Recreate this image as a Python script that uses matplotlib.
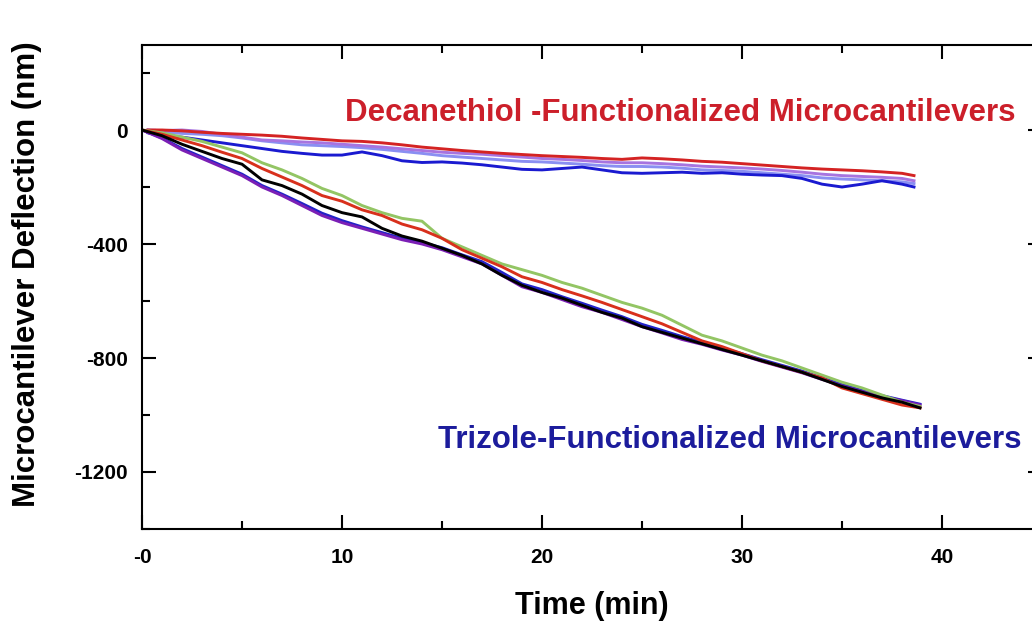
import numpy as np
import matplotlib
matplotlib.use("Agg")
import matplotlib.pyplot as plt
from matplotlib.ticker import MultipleLocator

plt.rcParams['font.family'] = ['Liberation Sans', 'DejaVu Sans']
plt.rcParams['font.weight'] = 'bold'
plt.rcParams['axes.unicode_minus'] = False

# 上组：Decanethiol 功能化悬臂
t_top = [0.3, 1, 2, 3, 4, 5, 6, 7, 8, 9, 10, 11, 12, 13, 14, 15, 16, 17, 18, 19,
         20, 21, 22, 23, 24, 25, 26, 27, 28, 29, 30, 31, 32, 33, 34, 35, 36, 37, 38, 38.6]
dec_red = [0, 0, -3, -8, -12, -15, -18, -22, -28, -33, -38, -40, -45, -52, -60, -66, -72, -77, -82, -86,
           -90, -93, -96, -100, -103, -98, -101, -105, -110, -113, -118, -123, -128, -133, -137, -140, -143, -147, -152, -160]
dec_violet = [0, -2, 0, -5, -15, -25, -35, -38, -42, -45, -50, -55, -60, -66, -72, -78, -82, -85, -90, -95,
              -100, -103, -107, -112, -115, -115, -118, -122, -127, -130, -133, -137, -142, -148, -155, -160, -163, -166, -170, -178]
dec_lblue = [0, -8, -12, -15, -20, -28, -38, -45, -52, -55, -58, -62, -68, -75, -82, -90, -95, -100, -105, -110,
             -112, -116, -120, -125, -128, -128, -130, -134, -140, -142, -145, -150, -155, -160, -168, -172, -175, -178, -182, -188]
dec_blue = [-10, -20, -25, -35, -45, -55, -65, -75, -82, -88, -88, -77, -90, -108, -114, -112, -116, -122, -130, -138,
            -140, -135, -130, -140, -150, -152, -150, -148, -152, -150, -155, -158, -160, -170, -190, -200, -190, -178, -190, -200]

# 下组：Trizole 功能化悬臂
t_bot = [0, 1, 2, 3, 4, 5, 6, 7, 8, 9, 10, 11, 12, 13, 14, 15, 16, 17, 18, 19,
         20, 21, 22, 23, 24, 25, 26, 27, 28, 29, 30, 31, 32, 33, 34, 35, 36, 37, 38, 38.9]
tri_blue = [0, -28, -65, -95, -125, -155, -195, -225, -258, -292, -318, -340, -360, -380, -395, -413, -438, -462, -500, -540,
            -560, -585, -608, -632, -655, -682, -703, -725, -745, -765, -785, -806, -826, -846, -870, -893, -914, -932, -948, -962]
tri_purple = [0, -30, -70, -100, -130, -160, -200, -230, -265, -300, -325, -345, -365, -385, -400, -420, -445, -470, -510, -550,
              -570, -595, -620, -640, -665, -690, -712, -735, -752, -772, -790, -812, -832, -852, -875, -898, -918, -935, -950, -965]
tri_green = [0, -10, -25, -40, -60, -80, -115, -140, -170, -205, -230, -265, -290, -310, -320, -380, -410, -440, -470, -490,
             -510, -535, -555, -580, -605, -625, -650, -685, -720, -740, -765, -790, -810, -835, -860, -885, -905, -930, -955, -970]
tri_red = [0, -15, -35, -55, -78, -100, -135, -165, -195, -230, -250, -280, -300, -330, -350, -380, -420, -450, -480, -515,
           -535, -560, -582, -605, -630, -655, -680, -710, -740, -760, -785, -810, -830, -850, -870, -905, -925, -945, -965, -975]
tri_black = [0, -20, -50, -75, -100, -120, -175, -195, -225, -265, -290, -305, -345, -372, -390, -415, -440, -470, -510, -545,
             -570, -590, -615, -640, -660, -690, -710, -730, -750, -770, -790, -810, -830, -850, -875, -900, -920, -940, -955, -975]

xticks = [0, 10, 20, 30, 40]
xtick_labels = ['-0', '10', '20', '30', '40']
yticks = [0, -400, -800, -1200]
ytick_labels = ['0', '-400', '-800', '-1200']

fig = plt.figure(figsize=(10.32, 6.24), dpi=100)
ax = fig.add_axes([142 / 1032, 95 / 624, 900 / 1032, 484.5 / 624])

lw = 2.1
ax.plot(t_top, dec_lblue, color='#8a8ff2', lw=lw)
ax.plot(t_top, dec_violet, color='#a774e0', lw=lw)
ax.plot(t_top, dec_red, color='#d42323', lw=lw)
ax.plot(t_top, dec_blue, color='#1a1ad0', lw=lw)

ax.plot(t_bot, tri_blue, color='#2222c8', lw=lw)
ax.plot(t_bot, tri_purple, color='#7b1fb5', lw=lw)
ax.plot(t_bot, tri_green, color='#93c564', lw=lw)
ax.plot(t_bot, tri_red, color='#d8301c', lw=lw)
ax.plot(t_bot, tri_black, color='black', lw=lw)

ax.set_xlim(0, 45)
ax.set_ylim(-1400, 300)
ax.set_xticks(xticks)
ax.set_xticklabels(xtick_labels, fontsize=15, fontweight='bold')
ax.set_yticks(yticks)
ax.set_yticklabels(ytick_labels, fontsize=15, fontweight='bold')
ax.xaxis.set_minor_locator(MultipleLocator(5))
ax.yaxis.set_minor_locator(MultipleLocator(200))
ax.tick_params(which='both', direction='in', top=True, right=True, width=1.5)
ax.tick_params(which='major', length=10)
ax.tick_params(axis='x', which='major', pad=14)
ax.tick_params(axis='y', which='major', pad=10)
ax.tick_params(which='minor', length=6)
for s in ax.spines.values():
    s.set_linewidth(1.5)

ax.set_xlabel('Time (min)', fontsize=22, fontweight='bold', labelpad=17)
ax.set_ylabel('Microcantilever Deflection (nm)', fontsize=22.5, fontweight='bold')
ax.yaxis.set_label_coords(-0.111, 0.525)

ax.text(0.598, 0.859, 'Decanethiol -Functionalized Microcantilevers', transform=ax.transAxes,
        color='#cc1f2a', fontsize=22.5, fontweight='bold', ha='center', va='center')
ax.text(0.653, 0.184, 'Trizole-Functionalized Microcantilevers', transform=ax.transAxes,
        color='#1c1c9c', fontsize=22.5, fontweight='bold', ha='center', va='center')

fig.savefig('out.png', dpi=100)
